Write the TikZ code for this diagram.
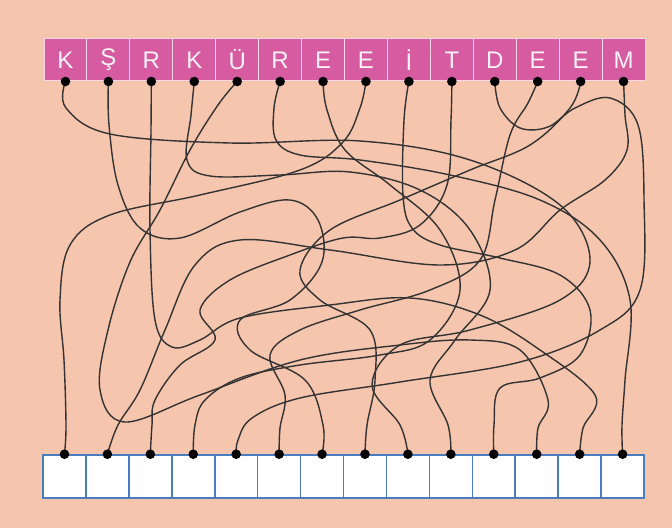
\documentclass[tikz,border=0pt]{standalone}
\usepackage{fontspec}
\setmainfont{Liberation Sans}
\usepackage{tikz}

\definecolor{peach}{HTML}{F6C5AD}
\definecolor{boxpink}{HTML}{D65BA0}
\definecolor{boxblue}{HTML}{4A7CC0}
\definecolor{wirecol}{HTML}{333333}

\begin{document}
\begin{tikzpicture}[
    x=0.5pt, y=-0.5pt,
    letterbox/.style={draw=white!75!boxpink, line width=0.5pt, fill=boxpink, text=white!92!boxpink,
      minimum width=21.46pt, minimum height=21pt, inner sep=0pt, font=\fontsize{12}{14}\selectfont},
    answerbox/.style={draw=boxblue, line width=0.8pt, fill=white, minimum width=21.46pt, minimum height=21.5pt, inner sep=0pt},
    dot/.style={circle, fill=black, inner sep=0pt, minimum size=4.8pt},
    wire/.style={draw=wirecol, line width=0.7pt}
  ]
    \fill[peach] (0,0) rectangle (672,528);

    % letter row and answer row
    \foreach \c [count=\i] in {K,Ş,R,K,Ü,R,E,E,İ,T,D,E,E,M} {
      \node[letterbox] (l\i) at ({44+42.93*(\i-0.5)},60) {\c};
      \coordinate (t\i) at (l\i.south);
      \node[answerbox] (a\i) at ({43+42.93*(\i-0.5)},476.5) {};
      \coordinate (b\i) at (a\i.north);
    }

    % tangled lines
    \draw[wire] plot[smooth, tension=0.6] coordinates {(t1) (66,108) (110,134) (230,143) (360,141) (470,160) (560,205) (590,260) (560,300) (470,330) (400,345) (372,385) (400,425) (b9)};
    \draw[wire] plot[smooth, tension=0.6] coordinates {(t2) (109,125) (118,185) (140,228) (180,238) (240,212) (290,200) (318,220) (322,262) (290,300) (240,320) (250,350) (305,380) (323,425) (b7)};
    \draw[wire] plot[smooth, tension=0.6] coordinates {(t3) (151,130) (150,230) (155,320) (172,347) (200,340) (240,318) (330,305) (410,298) (480,315) (540,350) (595,395) (583,428) (b13)};
    \draw[wire] plot[smooth, tension=0.6] coordinates {(t4) (191,115) (187,160) (210,176) (280,175) (350,172) (420,190) (470,230) (490,290) (455,340) (430,380) (448,425) (b10)};
    \draw[wire] plot[smooth, tension=0.6] coordinates {(t5) (218,105) (190,150) (160,210) (130,262) (108,330) (100,390) (125,422) (200,395) (300,360) (400,345) (470,340) (520,350) (548,400) (538,428) (b12)};
    \draw[wire] plot[smooth, tension=0.6] coordinates {(t6) (274,108) (276,140) (300,155) (360,160) (450,175) (540,200) (600,240) (630,300) (625,380) (622,425) (b14)};
    \draw[wire] plot[smooth, tension=0.6] coordinates {(t7) (327,110) (345,150) (390,185) (440,230) (460,290) (430,340) (380,355) (300,365) (240,378) (205,400) (195,425) (b4)};
    \draw[wire] plot[smooth, tension=0.6] coordinates {(t8) (360,108) (343,142) (300,170) (200,195) (110,215) (70,245) (60,300) (64,360) (66,425) (b1)};
    \draw[wire] plot[smooth, tension=0.6] coordinates {(t9) (404,120) (403,195) (412,228) (440,245) (500,258) (560,275) (590,310) (580,355) (540,378) (500,388) (494,425) (b11)};
    \draw[wire] plot[smooth, tension=0.6] coordinates {(t10) (451,120) (447,185) (420,225) (380,238) (343,238) (290,255) (230,280) (200,310) (215,340) (180,365) (155,400) (152,425) (b3)};
    \draw[wire] plot[smooth, tension=0.6] coordinates {(t11) (500,108) (520,128) (548,127) (575,108) (610,98) (638,125) (644,200) (640,290) (600,330) (520,362) (400,382) (300,398) (252,418) (238,440) (b5)};
    \draw[wire] plot[smooth, tension=0.6] coordinates {(t12) (528,103) (510,135) (495,200) (480,260) (430,290) (360,310) (300,330) (270,355) (285,395) (280,428) (b6)};
    \draw[wire] plot[smooth, tension=0.6] coordinates {(t13) (570,108) (530,145) (470,170) (400,200) (330,230) (300,270) (320,300) (370,330) (375,380) (367,425) (b8)};
    \draw[wire] plot[smooth, tension=0.6] coordinates {(t14) (625,115) (627,150) (605,180) (560,210) (515,250) (440,265) (330,250) (240,240) (195,265) (165,330) (140,390) (118,425) (b2)};

    % dots on top of the lines
    \foreach \i in {1,...,14} {
      \node[dot] (dt\i) at (t\i) {};
      \node[dot] (db\i) at (b\i) {};
    }
  \end{tikzpicture}
\end{document}
